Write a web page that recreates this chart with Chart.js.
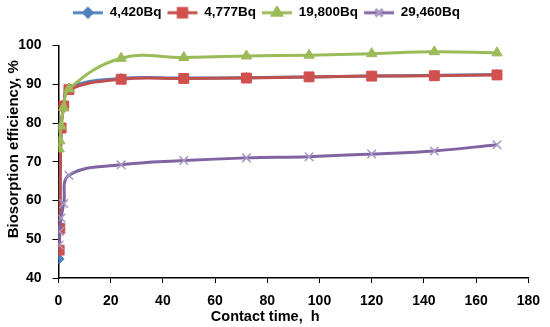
<!DOCTYPE html>
<html><head><meta charset="utf-8">
<script src="https://cdn.jsdelivr.net/npm/chart.js@4.4.0/dist/chart.umd.min.js"></script>
<style>html,body{margin:0;padding:0;background:#fff}#wrap{width:550px;height:327px}</style>
</head><body><div id="wrap"><canvas id="c" width="550" height="327"></canvas></div>
<script>
const times = [0.25, 0.5, 1, 2, 4, 24, 48, 72, 96, 120, 144, 168];
const seriesNames = ["4,420Bq", "4,777Bq", "19,800Bq", "29,460Bq"];
const blue   = [44.9, 52.5, 78.5, 84.2, 89.0, 91.5, 91.6, 91.7, 91.9, 92.1, 92.3, 92.5];
const red    = [47.2, 52.8, 78.7, 84.4, 88.6, 91.3, 91.5, 91.6, 91.9, 92.1, 92.2, 92.4];
const green  = [73.3, 75.4, 79.2, 84.0, 88.8, 96.7, 96.9, 97.3, 97.5, 97.9, 98.4, 98.1];
const purple = [48.5, 52.0, 55.5, 59.2, 66.5, 69.2, 70.3, 71.0, 71.3, 72.0, 72.8, 74.4];
const xTicks = [0, 20, 40, 60, 80, 100, 120, 140, 160, 180];
const yTicks = [40, 50, 60, 70, 80, 90, 100];

const styles = [
  {line:'#4F81BD', fill:'#4F81BD', pt:'rectRot', r:5},
  {line:'#C0504D', fill:'#D0504D', pt:'rect', r:7},
  {line:'#9BBB59', fill:'#9BBB59', pt:'triangle', r:6},
  {line:'#8064A2', fill:'#A898C4', pt:'crossRot', r:6}
];
const allVals = [blue, red, green, purple];

function legendImg(s){
  const cv = document.createElement('canvas');
  cv.width = 32; cv.height = 14;
  const c = cv.getContext('2d');
  c.strokeStyle = s.line; c.lineWidth = 3;
  c.beginPath(); c.moveTo(1,7); c.lineTo(31,7); c.stroke();
  c.fillStyle = s.fill; c.strokeStyle = s.fill;
  Chart.helpers.drawPoint(c, {pointStyle:s.pt, radius:s.r*0.85, borderWidth: s.pt==='crossRot'?1.5:1}, 16, 7);
  return cv;
}

const datasets = allVals.map((vals, i) => ({
  label: seriesNames[i],
  data: times.map((t, j) => ({x: t, y: vals[j]})),
  order: allVals.length - 1 - i,
  borderColor: styles[i].line,
  backgroundColor: styles[i].fill,
  pointBackgroundColor: styles[i].fill,
  pointBorderColor: styles[i].fill,
  pointBorderWidth: i===3 ? 1.5 : 1,
  pointStyle: styles[i].pt,
  pointRadius: styles[i].r,
  borderWidth: 3,
  tension: 0.4,
  cubicInterpolationMode: 'default'
}));

const legendSpace = {
  id: 'legendSpace',
  beforeInit(chart){
    const orig = chart.legend.fit;
    chart.legend.fit = function(){ orig.bind(chart.legend)(); this.height += 16; };
  }
};

const boldFont = {family: 'Liberation Sans, Arial, sans-serif', weight: 'bold'};

new Chart(document.getElementById('c'), {
  type: 'line',
  data: {datasets},
  plugins: [legendSpace],
  options: {
    responsive: false,
    animation: false,
    layout: {padding: {left: 0, right: 17, top: 0, bottom: 0}},
    plugins: {
      tooltip: {enabled: false},
      legend: {
        display: true,
        position: 'top',
        labels: {
          color: '#000',
          font: {...boldFont, size: 13.5},
          usePointStyle: true,
          pointStyleWidth: 30,
          padding: 6,
          generateLabels(chart){
            return chart.data.datasets.map((d, i) => ({
              text: d.label, pointStyle: legendImg(styles[i]), datasetIndex: i,
              fillStyle: styles[i].fill, strokeStyle: styles[i].fill, lineWidth: 0, fontColor:'#000'
            }));
          }
        }
      }
    },
    scales: {
      x: {
        type: 'linear', min: 0, max: 180,
        afterBuildTicks(ax){ ax.ticks = xTicks.map(v => ({value: v})); },
        afterFit(ax){ ax.height = 49; },
        grid: {display: true, drawOnChartArea: false, drawTicks: true, tickLength: 5, color: '#000', lineWidth: 1},
        border: {display: true, color: '#000', width: 1.5},
        ticks: {color: '#000', font: {...boldFont, size: 14}, padding: 10, maxRotation: 0, autoSkip: false},
        title: {display: true, text: 'Contact time,  h' + '\u00a0'.repeat(14), color: '#000', font: {...boldFont, size: 14.5}, padding: {top: 0, bottom: 1}}
      },
      y: {
        min: 40, max: 100,
        afterBuildTicks(ax){ ax.ticks = yTicks.map(v => ({value: v})); },
        afterFit(ax){ ax.width = 58.5; },
        grid: {display: true, drawOnChartArea: false, drawTicks: true, tickLength: 6, color: '#000', lineWidth: 1},
        border: {display: true, color: '#000', width: 1.5},
        ticks: {color: '#000', font: {...boldFont, size: 14}, padding: 11, autoSkip: false},
        title: {display: true, text: '\u00a0'.repeat(6) + 'Biosorption efficiency, %', color: '#000', font: {...boldFont, size: 15}, padding: {top: 5, bottom: 0}}
      }
    }
  }
});
</script></body></html>
